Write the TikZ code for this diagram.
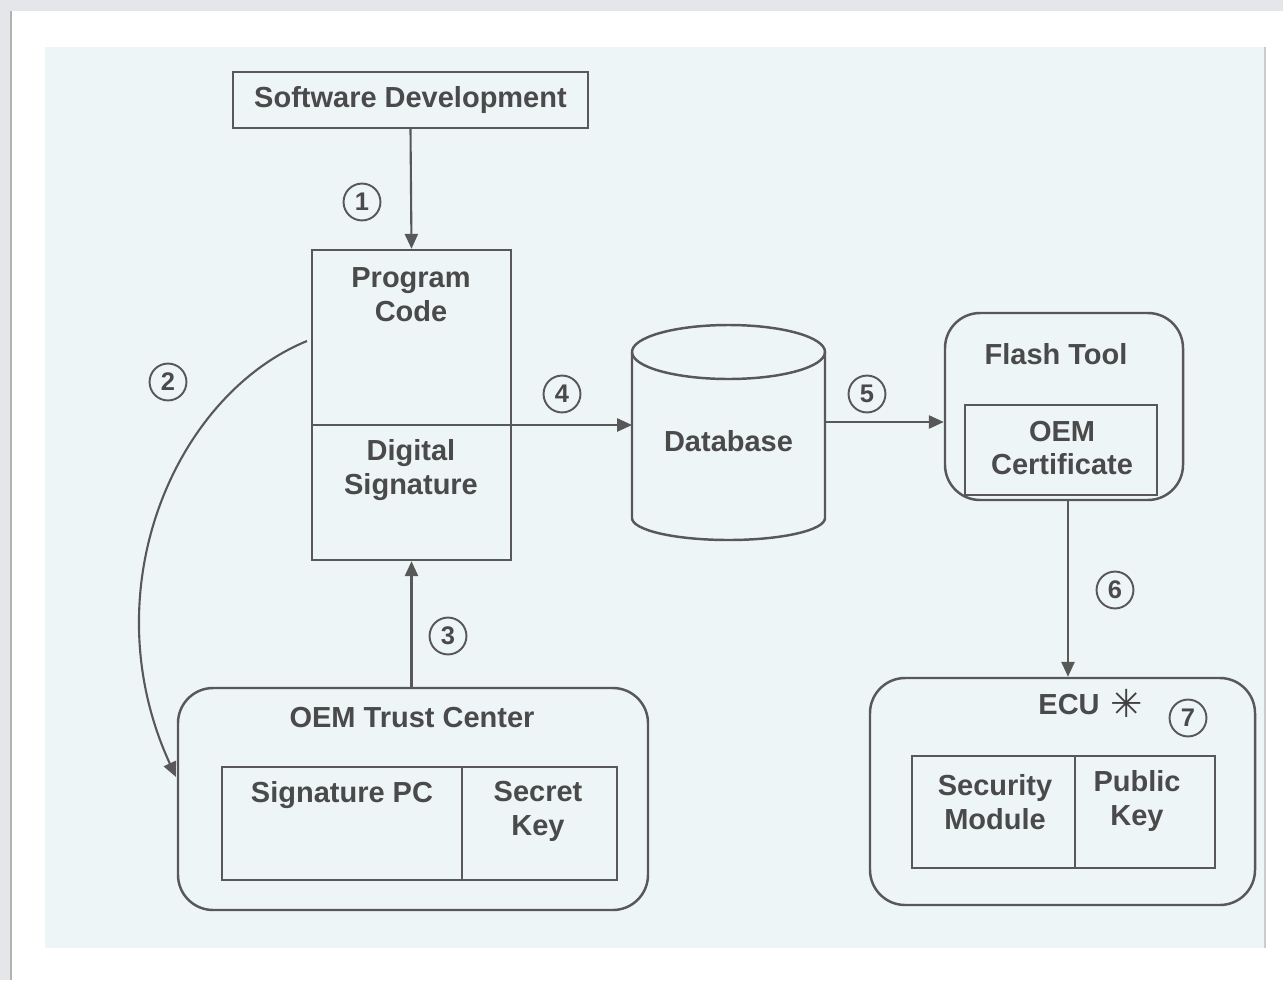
\documentclass[tikz,border=0pt]{standalone}
\usepackage{fontspec}
\setmainfont{Liberation Sans}
\newfontfamily\symfont{DejaVu Sans}
\usetikzlibrary{arrows.meta}
\definecolor{pagegray}{HTML}{E4E6EA}
\definecolor{scanbg}{HTML}{EEF5F7}
\definecolor{ink}{HTML}{4A4A4A}
\definecolor{linec}{HTML}{585858}
\tikzset{
  box/.style={draw=linec, line width=1.4pt, rectangle, inner sep=0pt},
  rbox/.style={draw=linec, line width=1.4pt, rectangle, rounded corners=20pt, inner sep=0pt},
  lbl/.style={text=ink, font=\fontsize{16.5}{19.3}\selectfont\bfseries, align=center, inner sep=0pt},
  num/.style={draw=linec, line width=1.1pt, circle, minimum size=21pt, inner sep=0pt, text=ink, font=\fontsize{14.5}{14.5}\selectfont\bfseries},
  conn/.style={draw=linec, line width=1.2pt, -{Triangle[length=8.5pt,width=7.5pt]}},
}
\begin{document}
\begin{tikzpicture}[x=0.02cm,y=-0.02cm]
\useasboundingbox (0,0) rectangle (1283,980);
% page background
\fill[pagegray] (0,0) rectangle (1283,980);
\fill[white] (11,11) rectangle (1283,980);
\draw[gray!60, line width=1pt] (11,11) -- (11,980);
\fill[scanbg] (45,47) rectangle (1265,948);
\draw[gray!40, line width=0.8pt] (1265,47) -- (1265,948);

% Software Development
\node[box, minimum width=355*0.02cm, minimum height=56*0.02cm] (sw) at (410.5,100) {};
\node[lbl] (swt) at (410.5,100) {Software Development};

% Program code box
\node[box, minimum width=199*0.02cm, minimum height=310*0.02cm] (pc) at (411.5,405) {};
\coordinate (divL) at (312,425);
\coordinate (divR) at (511,425);
\draw[linec, line width=1.4pt] (divL) -- (divR);
\node[lbl] (pct) at (411,295) {Program\\Code};
\node[lbl] (dst) at (411,470) {Digital\\Signature};

% Database cylinder
\coordinate (dbL) at (632,425);
\coordinate (dbR) at (825,422);
\node[minimum width=193*0.02cm, minimum height=195*0.02cm, inner sep=0pt] (db) at (728.5,425) {};
\draw[linec, line width=1.4pt, fill=scanbg]
  (632,352) -- (632,518) arc[start angle=180, end angle=360, x radius=96.5, y radius=-22] -- (825,352);
\draw[linec, line width=1.4pt] (728.5,352) ellipse[x radius=96.5, y radius=27];
\node[lbl] (dbt) at (728.5,441) {Database};

% Flash tool
\node[rbox, minimum width=238*0.02cm, minimum height=187*0.02cm] (ft) at (1064,406.5) {};
\node[lbl] (ftt) at (1056,354) {Flash Tool};
\node[box, minimum width=192*0.02cm, minimum height=90*0.02cm] (cert) at (1061,450) {};
\node[lbl] (certt) at (1062,448) {OEM\\Certificate};

% ECU
\node[rbox, minimum width=385*0.02cm, minimum height=227*0.02cm] (ecu) at (1062.5,791.5) {};
\node[lbl] (ecut) at (1069,705) {ECU};
\node[text=black!75, font=\symfont\fontsize{22}{22}\selectfont, inner sep=0pt] (star) at (1127,703) {✳};
\node[box, minimum width=163*0.02cm, minimum height=112*0.02cm] (secm) at (993.5,812) {};
\node[box, minimum width=140*0.02cm, minimum height=112*0.02cm] (pubk) at (1145,812) {};
\node[lbl] (secmt) at (995,802) {Security\\Module};
\node[lbl] (pubkt) at (1137,801) {Public\\Key};

% OEM Trust Center
\node[rbox, minimum width=470*0.02cm, minimum height=222*0.02cm] (tc) at (413,799) {};
\node[lbl] (tct) at (412,718) {OEM Trust Center};
\node[box, minimum width=240*0.02cm, minimum height=113*0.02cm] (spc) at (342,823.5) {};
\node[box, minimum width=155*0.02cm, minimum height=113*0.02cm] (sk) at (539.5,823.5) {};
\node[lbl] (spct) at (342,795) {Signature PC};
\node[lbl] (skt) at (538,811) {Secret\\Key};

% connectors
\draw[conn] (sw.south) -- (pc.north);
\draw[conn] (tc.north -| pc.south) -- (pc.south);
\draw[conn] (divR) -- (dbL);
\draw[conn] (dbR) -- (dbR -| ft.west);
\coordinate (c6top) at (1068,500);
\draw[conn] (c6top) -- (c6top |- ecu.north);
\coordinate (c2s) at (307,341);
\coordinate (c2e) at (176,777);
\draw[conn] (c2s) .. controls (175,395) and (90,590) .. (c2e);

% step numbers
\node[num] (n1) at (362,202) {1};
\node[num] (n2) at (168,382) {2};
\node[num] (n3) at (448,636) {3};
\node[num] (n4) at (562,394) {4};
\node[num] (n5) at (867,394) {5};
\node[num] (n6) at (1115,590) {6};
\node[num] (n7) at (1188,718) {7};
\end{tikzpicture}
\end{document}
